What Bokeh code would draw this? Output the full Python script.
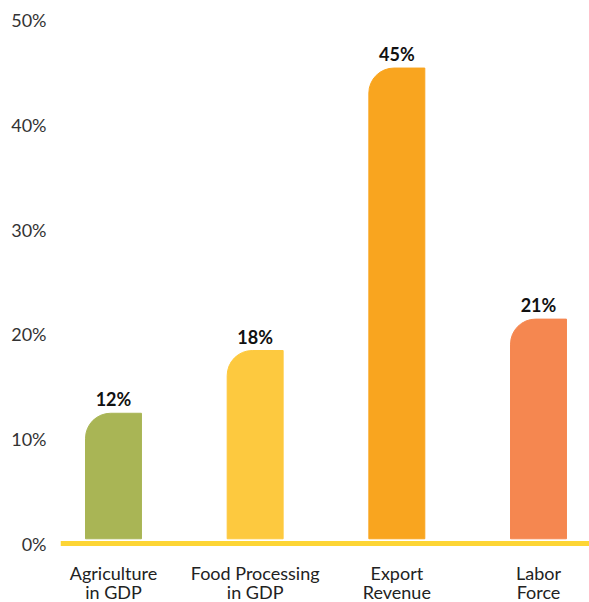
from bokeh.plotting import figure
from bokeh.models import FixedTicker, Span, Range1d, ColumnDataSource
from bokeh.embed import file_html
from bokeh.resources import INLINE
from bokeh.core.properties import value

categories = ["Agriculture\nin GDP", "Food Processing\nin GDP", "Export\nRevenue", "Labor\nForce"]
shares = [12, 18, 45, 21]
share_labels = ["12%", "18%", "45%", "21%"]
colors = ["#A9B555", "#FDC93F", "#F9A51F", "#F58750"]
y_ticks = [0, 10, 20, 30, 40, 50]
y_tick_labels = ["0%", "10%", "20%", "30%", "40%", "50%"]

GAP = 0.45  # visual gap between the baseline and bar bottoms
xs = list(range(len(categories)))

src = ColumnDataSource(dict(
    x=xs,
    top=[s + GAP for s in shares],
    bottom=[GAP] * len(shares),
    color=colors,
    label=share_labels,
    cat=categories,
    zero=[0] * len(shares),
))

p = figure(width=589, height=602, output_backend="svg", toolbar_location=None,
           x_range=Range1d(-0.374, 3.36), y_range=Range1d(-5.64, 50.57),
           min_border_left=60, min_border_right=0, min_border_top=14, min_border_bottom=0)

p.vbar(x="x", top="top", bottom="bottom", width=0.395, color="color", source=src,
       border_radius=(25, 0, 0, 0))

p.text(x="x", y="top", text="label", source=src, text_align="center", text_baseline="bottom",
       y_offset=-3, text_font=value("Lato"), text_font_style="bold", text_font_size="18px",
       text_color="#111111")

p.text(x="x", y="zero", text="cat", source=src, text_align="center", text_baseline="top",
       y_offset=18, text_font=value("Lato"), text_font_size="18px", text_line_height=0.9,
       text_color="#222222")

p.add_layout(Span(location=0, dimension="width", line_color="#FDD535", line_width=5))

p.xaxis.visible = False
p.yaxis.ticker = FixedTicker(ticks=y_ticks)
p.yaxis.major_label_overrides = {t: l for t, l in zip(y_ticks, y_tick_labels)}
p.yaxis.axis_line_color = None
p.yaxis.major_tick_line_color = None
p.yaxis.minor_tick_line_color = None
p.yaxis.major_tick_out = 0
p.yaxis.major_label_text_font = "Lato"
p.yaxis.major_label_text_font_size = "18px"
p.yaxis.major_label_text_color = "#333333"
p.yaxis.major_label_standoff = 14

p.xgrid.grid_line_color = None
p.ygrid.grid_line_color = None
p.outline_line_color = None
p.background_fill_color = "white"
p.border_fill_color = "white"

open("out.html", "w").write(file_html(p, INLINE))
